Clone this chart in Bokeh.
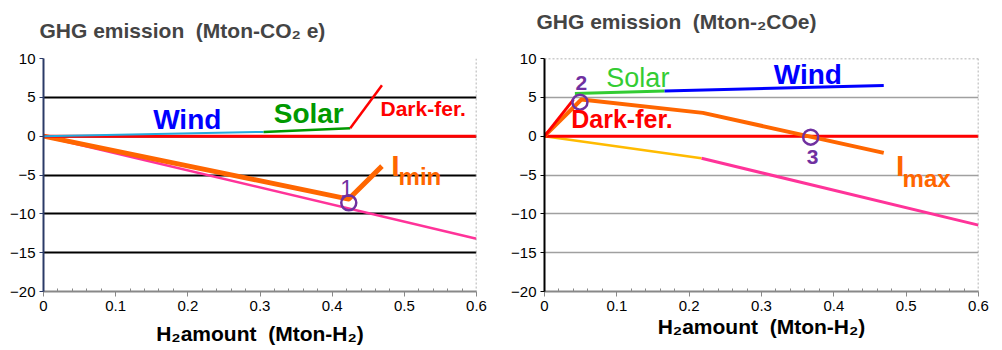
from bokeh.plotting import figure
from bokeh.layouts import row
from bokeh.models import Span, FixedTicker
from bokeh.embed import file_html
from bokeh.resources import INLINE
from bokeh.core.properties import value

# ---------------- data ----------------
x_ticks = [0, 0.1, 0.2, 0.3, 0.4, 0.5, 0.6]
x_tick_labels = ["0", "0.1", "0.2", "0.3", "0.4", "0.5", "0.6"]
x_minor = [0.02, 0.04, 0.06, 0.08, 0.12, 0.14, 0.16, 0.18, 0.22, 0.24, 0.26, 0.28,
           0.32, 0.34, 0.36, 0.38, 0.42, 0.44, 0.46, 0.48, 0.52, 0.54, 0.56, 0.58]
y_ticks = [-20, -15, -10, -5, 0, 5, 10]
y_grid = [-15, -10, -5, 0, 5, 10]

# left panel (I_min)
L_zero_x = [0.0, 0.6]
L_zero_y = [0.0, 0.0]
L_wind_x = [0.0, 0.305]
L_wind_y = [0.0, 0.55]
L_solar_x = [0.305, 0.425]
L_solar_y = [0.55, 1.03]
L_dark_x = [0.425, 0.469]
L_dark_y = [1.03, 6.56]
L_imin_x = [0.0, 0.423, 0.469]
L_imin_y = [0.0, -8.1, -3.86]
L_pink_x = [0.0, 0.6]
L_pink_y = [0.0, -13.2]
L_pt_x = [0.423]
L_pt_y = [-8.58]

# right panel (I_max)
R_zero_x = [0.0, 0.6]
R_zero_y = [0.0, 0.0]
R_dark_x = [0.0, 0.04]
R_dark_y = [0.0, 4.7]
R_imax_x = [0.0, 0.051, 0.219, 0.469]
R_imax_y = [0.0, 4.72, 3.0, -2.15]
R_solar_x = [0.042, 0.166]
R_solar_y = [5.49, 5.83]
R_wind_x = [0.166, 0.469]
R_wind_y = [5.83, 6.52]
R_yellow_x = [0.0, 0.217]
R_yellow_y = [0.0, -2.85]
R_pink_x = [0.217, 0.6]
R_pink_y = [-2.85, -11.45]
R_pt_x = [0.049, 0.368]
R_pt_y = [4.38, -0.13]

FONT = "Liberation Sans"
RED = "#ff0000"
ORANGE = "#ff6600"
PURPLE = "#7030a0"
PINK = "#ff3399"
BLUE = "#0000ff"


def make_fig(width, border_left, border_right, title, title_offset, title_standoff,
             grid_color, grid_width, yaxis_color, xlabel_standoff):
    p = figure(width=width, height=350, x_range=(0, 0.6), y_range=(-20, 10),
               output_backend="svg", toolbar_location=None,
               min_border_left=border_left, min_border_right=border_right,
               min_border_top=58, min_border_bottom=59)
    p.outline_line_color = None
    p.title.text = title
    p.title.text_font = FONT
    p.title.text_font_size = "21px"
    p.title.text_font_style = "bold"
    p.title.align = "left"
    p.title.offset = title_offset
    p.title.standoff = title_standoff

    p.xgrid.visible = False
    p.ygrid.ticker = FixedTicker(ticks=y_grid)
    p.ygrid.grid_line_color = grid_color
    p.ygrid.grid_line_width = grid_width

    xa = p.xaxis[0]
    xa.ticker = FixedTicker(ticks=x_ticks, minor_ticks=x_minor)
    xa.major_label_overrides = dict(zip(x_ticks, x_tick_labels))
    xa.axis_line_color = "#888888"
    xa.axis_line_width = 2
    xa.major_tick_line_color = "#888888"
    xa.major_tick_out = 5
    xa.major_tick_in = 0
    xa.minor_tick_line_color = "#888888"
    xa.minor_tick_in = 3
    xa.minor_tick_out = 0
    xa.major_label_standoff = 4
    xa.major_label_text_font = FONT
    xa.major_label_text_font_size = "15px"
    xa.major_label_text_color = "black"
    xa.axis_label = "H\u2082amount\u00a0 (Mton-H\u2082)"
    xa.axis_label_text_font = FONT
    xa.axis_label_text_font_size = "21px"
    xa.axis_label_text_font_style = "bold"
    xa.axis_label_text_color = "black"
    xa.axis_label_standoff = xlabel_standoff

    ya = p.yaxis[0]
    ya.ticker = FixedTicker(ticks=y_ticks)
    ya.axis_line_color = yaxis_color
    ya.axis_line_width = 2
    ya.major_tick_line_color = yaxis_color
    ya.major_tick_out = 4
    ya.major_tick_in = 0
    ya.minor_tick_line_color = None
    ya.major_label_standoff = 4
    ya.major_label_text_font = FONT
    ya.major_label_text_font_size = "15px"
    ya.major_label_text_color = "black"
    return p


def label(p, x, y, txt, color, size, style="bold", align="left"):
    p.text(x=[x], y=[y], text=[txt], text_color=color, text_font=value(FONT),
           text_font_size=size, text_font_style=style, text_align=align,
           text_baseline="middle")


# ---------------- left figure ----------------
p1 = make_fig(508, 43, 32, "GHG emission\u00a0 (Mton-CO\u2082 e)", -4, 33,
              "black", 2, "#2b3a67", 8)
p1.line(L_pink_x, L_pink_y, line_color=PINK, line_width=2.5)
p1.line(L_imin_x, L_imin_y, line_color=ORANGE, line_width=5, line_join="round")
p1.line(L_zero_x, L_zero_y, line_color=RED, line_width=3)
p1.line(L_wind_x, L_wind_y, line_color="#22aadd", line_width=2)
p1.line(L_solar_x, L_solar_y, line_color="#009900", line_width=2.5)
p1.line(L_dark_x, L_dark_y, line_color=RED, line_width=2.5)
p1.scatter(L_pt_x, L_pt_y, marker="circle", size=15, fill_color=None,
           line_color=PURPLE, line_width=2.5)
p1.add_layout(Span(location=0.6, dimension="height", line_color="#999999",
                   line_width=1.5, line_dash="2 2"))
label(p1, 0.152, 2.12, "Wind", BLUE, "28px")
label(p1, 0.319, 2.93, "Solar", "#009900", "28px")
label(p1, 0.467, 3.52, "Dark-fer.", RED, "21px")
label(p1, 0.4817, -3.8, "I", ORANGE, "30px")
label(p1, 0.492, -5.2, "min", ORANGE, "24px")
label(p1, 0.42, -6.69, "1", PURPLE, "23px", style="normal", align="center")

# ---------------- right figure ----------------
p2 = make_fig(494, 35, 24, "GHG emission\u00a0 (Mton-\u2082COe)\n\u00a0", -8, 6,
              "#a0a0a0", 1.5, "black", 1)
p2.line(R_pink_x, R_pink_y, line_color=PINK, line_width=3)
p2.line(R_yellow_x, R_yellow_y, line_color="#ffbb00", line_width=2.5)
p2.line(R_zero_x, R_zero_y, line_color=RED, line_width=3)
p2.line(R_imax_x, R_imax_y, line_color=ORANGE, line_width=4, line_join="round")
p2.line(R_dark_x, R_dark_y, line_color=RED, line_width=3)
p2.line(R_solar_x, R_solar_y, line_color="#33cc33", line_width=3)
p2.line(R_wind_x, R_wind_y, line_color=BLUE, line_width=3)
p2.scatter(R_pt_x, R_pt_y, marker="circle", size=15, fill_color=None,
           line_color=PURPLE, line_width=2.5)
p2.add_layout(Span(location=0.6, dimension="height", line_color="#999999",
                   line_width=1.5, line_dash="2 2"))
p2.add_layout(Span(location=10, dimension="width", line_color="#999999",
                   line_width=1.5, line_dash="2 2"))
label(p2, 0.0855, 7.43, "Solar", "#33cc33", "27px", style="normal")
label(p2, 0.317, 7.95, "Wind", BLUE, "28px")
label(p2, 0.037, 2.19, "Dark-fer.", RED, "25px")
label(p2, 0.051, 6.9, "2", PURPLE, "21px", align="center")
label(p2, 0.3706, -2.70, "3", PURPLE, "21px", align="center")
label(p2, 0.486, -3.8, "I", ORANGE, "30px")
label(p2, 0.495, -5.5, "max", ORANGE, "24px")

layout = row(p1, p2)
open("out.html", "w").write(file_html(layout, INLINE))
